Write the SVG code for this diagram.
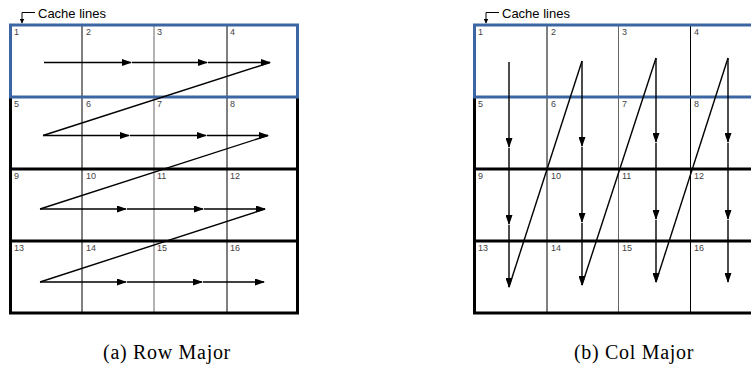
<svg xmlns="http://www.w3.org/2000/svg" width="751" height="376" viewBox="0 0 751 376">
<style>
.num{font-family:"Liberation Sans",Arial,sans-serif;font-size:9px;fill:#444}
.lbl{font-family:"Liberation Sans",Arial,sans-serif;font-size:13px;fill:#000}
.cap{font-family:"Liberation Serif","Times New Roman",serif;font-size:20px;fill:#000;letter-spacing:0.7px}
.thick{stroke:#000;stroke-width:3;fill:none}
.thin{stroke:#000;stroke-width:1;fill:none}
.mid{stroke:#666;stroke-width:1;fill:none}
.blue{stroke:#3b66a3;stroke-width:3;fill:none}
.arr{stroke:#000;stroke-width:1.4;fill:none;marker-end:url(#ah)}
.diag{stroke:#000;stroke-width:1.4;fill:none}
.lead{stroke:#000;stroke-width:1;fill:none;marker-end:url(#sh)}
</style>
<defs>
<marker id="ah" markerUnits="userSpaceOnUse" markerWidth="10" markerHeight="7" refX="9" refY="3.5" orient="auto"><path d="M0,0 L10,3.5 L0,7 z" fill="#000"/></marker>
<marker id="sh" markerUnits="userSpaceOnUse" markerWidth="5" markerHeight="5" refX="4.5" refY="2.5" orient="auto"><path d="M0,0 L5,2.5 L0,5 z" fill="#000"/></marker>
</defs>

<!-- Left panel: Row Major -->
<g id="gridA">
<path class="thin" d="M82,25 V313 M227,25 V313"/>
<path class="mid" d="M154,25 V313"/>
<path class="thick" d="M10.5,97 V313 M297.5,97 V313 M10.5,169 H297.5 M10.5,241 H297.5 M9,313 H299"/>
<rect id="cacheA" class="blue" x="10.5" y="25" width="287" height="72"/>
</g>
<g id="a1"><text class="num" x="14" y="35">1</text></g>
<g id="a2"><text class="num" x="86" y="35">2</text></g>
<g id="a3"><text class="num" x="157" y="35">3</text></g>
<g id="a4"><text class="num" x="230" y="35">4</text></g>
<g id="a5"><text class="num" x="14" y="107">5</text></g>
<g id="a6"><text class="num" x="86" y="107">6</text></g>
<g id="a7"><text class="num" x="157" y="107">7</text></g>
<g id="a8"><text class="num" x="230" y="107">8</text></g>
<g id="a9"><text class="num" x="14" y="179">9</text></g>
<g id="a10"><text class="num" x="86" y="179">10</text></g>
<g id="a11"><text class="num" x="157" y="179">11</text></g>
<g id="a12"><text class="num" x="230" y="179">12</text></g>
<g id="a13"><text class="num" x="14" y="251">13</text></g>
<g id="a14"><text class="num" x="86" y="251">14</text></g>
<g id="a15"><text class="num" x="157" y="251">15</text></g>
<g id="a16"><text class="num" x="230" y="251">16</text></g>
<g id="labelA"><path class="lead" d="M35,12.5 H22 V23"/><text class="lbl" x="38" y="18">Cache lines</text></g>

<!-- Right panel: Col Major -->
<g id="gridB">
<path class="thin" d="M547,25 V313 M690.5,25 V313"/>
<path class="mid" d="M618.5,25 V313"/>
<path class="thick" d="M474.5,97 V313 M474.5,169 H760 M474.5,241 H760 M473,313 H760"/>
<rect id="cacheB" class="blue" x="474.5" y="25" width="300" height="72"/>
</g>
<g id="b1"><text class="num" x="478" y="35">1</text></g>
<g id="b2"><text class="num" x="551" y="35">2</text></g>
<g id="b3"><text class="num" x="622" y="35">3</text></g>
<g id="b4"><text class="num" x="694" y="35">4</text></g>
<g id="b5"><text class="num" x="478" y="107">5</text></g>
<g id="b6"><text class="num" x="551" y="107">6</text></g>
<g id="b7"><text class="num" x="622" y="107">7</text></g>
<g id="b8"><text class="num" x="694" y="107">8</text></g>
<g id="b9"><text class="num" x="478" y="179">9</text></g>
<g id="b10"><text class="num" x="551" y="179">10</text></g>
<g id="b11"><text class="num" x="622" y="179">11</text></g>
<g id="b12"><text class="num" x="694" y="179">12</text></g>
<g id="b13"><text class="num" x="478" y="251">13</text></g>
<g id="b14"><text class="num" x="551" y="251">14</text></g>
<g id="b15"><text class="num" x="622" y="251">15</text></g>
<g id="b16"><text class="num" x="694" y="251">16</text></g>
<g id="labelB"><path class="lead" d="M499,12.5 H486 V23"/><text class="lbl" x="502" y="18">Cache lines</text></g>

<!-- Connectors -->
<g id="connectors">
<line class="arr" x1="44" y1="62.5" x2="131" y2="62.5"/>
<line class="arr" x1="132" y1="62.5" x2="207" y2="62.5"/>
<line class="arr" x1="208" y1="62.5" x2="270" y2="62.5"/>
<line class="diag" x1="270" y1="62.5" x2="43" y2="135.5"/>
<line class="arr" x1="43" y1="135.5" x2="129" y2="135.5"/>
<line class="arr" x1="130" y1="135.5" x2="206" y2="135.5"/>
<line class="arr" x1="207" y1="135.5" x2="268" y2="135.5"/>
<line class="diag" x1="268" y1="135.5" x2="40" y2="209"/>
<line class="arr" x1="40" y1="209" x2="126" y2="209"/>
<line class="arr" x1="127" y1="209" x2="203" y2="209"/>
<line class="arr" x1="204" y1="209" x2="265" y2="209"/>
<line class="diag" x1="265" y1="209" x2="40" y2="282"/>
<line class="arr" x1="40" y1="282" x2="126" y2="282"/>
<line class="arr" x1="127" y1="282" x2="202" y2="282"/>
<line class="arr" x1="203" y1="282" x2="264" y2="282"/>

<line class="arr" x1="509" y1="62" x2="509" y2="147"/>
<line class="arr" x1="509" y1="148" x2="509" y2="224"/>
<line class="arr" x1="509" y1="225" x2="509" y2="287"/>
<line class="diag" x1="509" y1="287" x2="582" y2="61"/>
<line class="arr" x1="582" y1="61" x2="582" y2="146"/>
<line class="arr" x1="582" y1="147" x2="582" y2="222"/>
<line class="arr" x1="582" y1="223" x2="582" y2="285"/>
<line class="diag" x1="582" y1="285" x2="656" y2="58"/>
<line class="arr" x1="656" y1="58" x2="656" y2="142"/>
<line class="arr" x1="656" y1="143" x2="656" y2="219"/>
<line class="arr" x1="656" y1="220" x2="656" y2="282"/>
<line class="diag" x1="656" y1="282" x2="728" y2="58"/>
<line class="arr" x1="728" y1="58" x2="728" y2="142"/>
<line class="arr" x1="728" y1="143" x2="728" y2="219"/>
<line class="arr" x1="728" y1="220" x2="728" y2="282"/>
</g>

<text class="cap" x="167" y="359" text-anchor="middle">(a) Row Major</text>
<text class="cap" x="634" y="359" text-anchor="middle">(b) Col Major</text>
</svg>
